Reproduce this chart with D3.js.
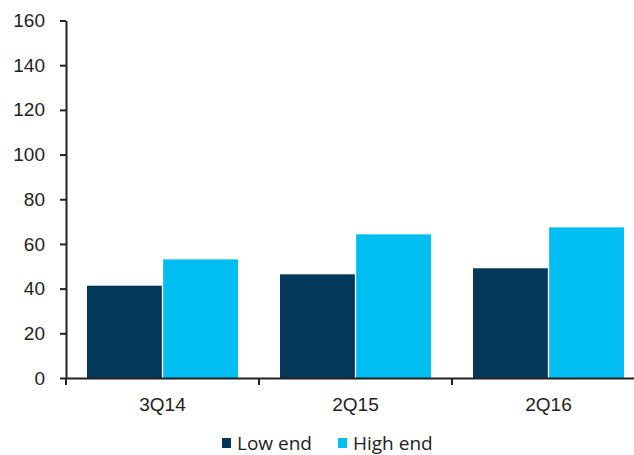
<!DOCTYPE html>
<html>
<head>
<meta charset="utf-8">
<script src="https://cdnjs.cloudflare.com/ajax/libs/d3/7.8.5/d3.min.js"></script>
<style>
  html, body { margin: 0; padding: 0; background: #fff; }
  svg { display: block; font-family: "Open Sans", "Noto Sans", sans-serif; }
</style>
</head>
<body>
<svg id="chart" width="634" height="455"></svg>
<script>
const categories = ["3Q14", "2Q15", "2Q16"];
const seriesNames = ["Low end", "High end"];
const lowEnd = [41.3, 46.4, 49.1];
const highEnd = [53.1, 64.3, 67.4];
const yTicks = [0, 20, 40, 60, 80, 100, 120, 140, 160];
const colors = ["#03385a", "#00bef2"];

const svg = d3.select("#chart");
const margin = { left: 66, top: 20.5 };
const plotRight = 645;
const plotBottom = 378;

const x = d3.scaleBand().domain(categories).range([margin.left, plotRight]).paddingInner(0).paddingOuter(0);
const inner = d3.scaleBand().domain(seriesNames).range([21, x.bandwidth() - 21]).paddingInner(0.017);
const y = d3.scaleLinear().domain([0, 160]).range([plotBottom, margin.top]);

const data = categories.map((c, i) => ({ cat: c, values: [lowEnd[i], highEnd[i]] }));

// bars
const groups = svg.append("g").selectAll("g").data(data).join("g")
  .attr("transform", d => `translate(${x(d.cat)},0)`);
groups.selectAll("rect").data(d => d.values.map((v, j) => ({ name: seriesNames[j], v, j })))
  .join("rect")
  .attr("x", d => inner(d.name))
  .attr("width", inner.bandwidth())
  .attr("y", d => y(d.v))
  .attr("height", d => y(0) - y(d.v))
  .attr("fill", d => colors[d.j]);

// y axis
const yAxis = svg.append("g").attr("transform", `translate(${margin.left},0)`)
  .call(d3.axisLeft(y).tickValues(yTicks).tickSize(6).tickPadding(15).tickSizeOuter(0));
yAxis.select(".domain").attr("stroke", "#222").attr("stroke-width", 2);
yAxis.selectAll(".tick line").attr("stroke", "#222").attr("stroke-width", 2);
yAxis.selectAll(".tick text").attr("fill", "#222").style("font-size", "19px");

// x axis
const xAxis = svg.append("g").attr("transform", `translate(0,${plotBottom})`)
  .call(d3.axisBottom(x).tickSize(0).tickPadding(20));
xAxis.select(".domain").attr("stroke", "#222").attr("stroke-width", 2);
xAxis.selectAll(".tick text").attr("fill", "#222").style("font-size", "19px");
// category boundary ticks
const boundaries = categories.map(c => x(c));
xAxis.selectAll(".bound").data(boundaries).join("line")
  .attr("class", "bound")
  .attr("x1", d => d).attr("x2", d => d)
  .attr("y1", 0).attr("y2", 7)
  .attr("stroke", "#222").attr("stroke-width", 2);

// legend
const legend = svg.append("g").attr("transform", "translate(0,443)");
const legendX = [222, 338];
const items = legend.selectAll("g").data(seriesNames).join("g")
  .attr("transform", (d, i) => `translate(${legendX[i]},0)`);
items.append("rect").attr("x", 0).attr("y", -5).attr("width", 9).attr("height", 10)
  .attr("fill", (d, i) => colors[i]);
items.append("text").attr("x", 15).attr("y", 0).attr("dy", "0.35em")
  .attr("fill", "#222").style("font-size", "19px").text(d => d);
</script>
</body>
</html>
